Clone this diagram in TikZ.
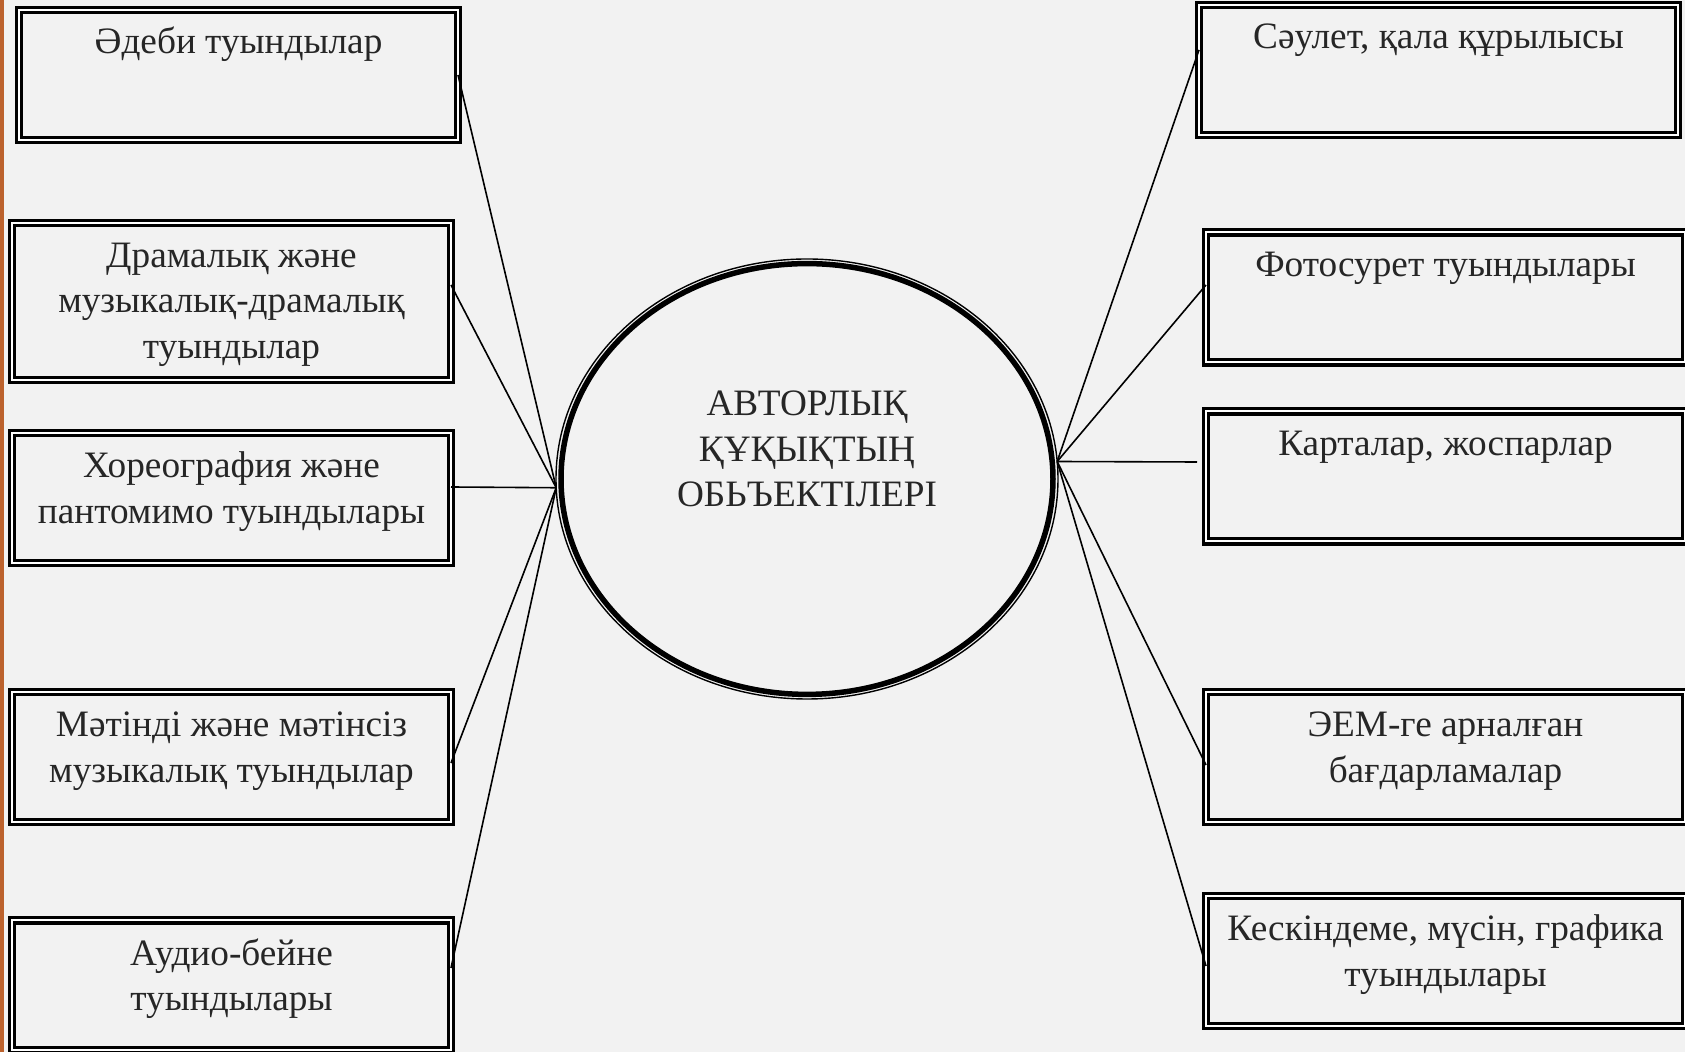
\documentclass[tikz,border=0pt]{standalone}
\usepackage{fontspec}
\setmainfont{Liberation Serif}
\usetikzlibrary{positioning,shapes.geometric}

\definecolor{slidegray}{RGB}{242,242,242}
\definecolor{rust}{RGB}{188,98,45}
\definecolor{inkgray}{RGB}{38,38,38}

\tikzset{
  kbox/.style={draw, double, line width=0.33mm, double distance=0.2mm,
    fill=slidegray, outer sep=0pt, inner ysep=0pt, minimum width=43.9mm,
    minimum height=13mm, align=center, text=inkgray,
    font=\fontsize{10.6}{13}\selectfont},
  rbox/.style={kbox, minimum width=47.9mm},
  toptxt/.style={text height=4.4mm, text depth=8.6mm},
  midtxt/.style={text height=7.3mm, text depth=2.2mm},
  ovalnode/.style={ellipse, draw, line width=0.14mm, fill=slidegray,
    inner sep=0pt, outer sep=0pt, minimum width=50.2mm, minimum height=44mm,
    align=center, text=inkgray, font=\fontsize{10.6}{13}\selectfont,
    text height=11.9mm, text depth=6.3mm},
  link/.style={line width=0.16mm},
}

\begin{document}
\begin{tikzpicture}[x=1mm, y=-1mm]

  \useasboundingbox (0,0) rectangle (168.5,105.2);
  \fill[slidegray] (0,0) rectangle (168.5,105.2);
  \fill[rust] (0,0) rectangle (0.35,105.2);

  % centre
  \node[ovalnode] (hub) at (80.7,47.9) {АВТОРЛЫҚ\\ҚҰҚЫҚТЫҢ\\ОБЬЪЕКТІЛЕРІ};
  \draw[line width=0.55mm] (hub.center) ellipse [x radius=24.6mm, y radius=21.54mm];

  % left column
  \node[kbox, toptxt] (adebi) at (23.85,7.5) {Әдеби туындылар};
  \node[kbox, minimum height=15.7mm, text height=11.9mm, text depth=0.5mm,
    below=8.3mm of adebi, xshift=-0.7mm] (drama)
    {Драмалық және\\музыкалық-драмалық\\туындылар};
  \node[kbox, midtxt, below=5.3mm of drama] (horeo) {Хореография және\\пантомимо туындылары};
  \node[kbox, midtxt, below=12.9mm of horeo] (muzyka) {Мәтінді және мәтінсіз\\музыкалық туындылар};
  \node[kbox, midtxt, below=9.85mm of muzyka] (audio) {Аудио-бейне\\туындылары};

  % right column
  \node[rbox, toptxt] (saulet) at (143.85,7.0) {Сәулет, қала құрылысы};
  \node[rbox, toptxt, below=9.75mm of saulet, xshift=0.7mm] (foto) {Фотосурет туындылары};
  \node[rbox, toptxt, below=4.9mm of foto] (karta) {Карталар, жоспарлар};
  \node[rbox, midtxt, below=15.05mm of karta] (eem) {ЭЕМ-ге арналған\\бағдарламалар};
  \node[rbox, midtxt, below=7.4mm of eem] (keskin) {Кескіндеме, мүсін, графика\\туындылары};

  % links
  \draw[link] (adebi.east) -- (hub.182);
  \draw[link] ([yshift=1.65mm]drama.east) -- (hub.182);
  \draw[link] ([yshift=1.1mm]horeo.east) -- (hub.182);
  \draw[link] ([yshift=-0.6mm]muzyka.east) -- (hub.182);
  \draw[link] ([yshift=1.75mm]audio.east) -- (hub.182);

  \draw[link] (hub.4) -- ([yshift=2mm]saulet.west);
  \draw[link] (hub.4) -- ([yshift=1.25mm]foto.west);
  \draw[link] (hub.4) -- ([xshift=-0.9mm, yshift=1.45mm]karta.west);
  \draw[link] (hub.4) -- ([yshift=-0.8mm]eem.west);
  \draw[link] (hub.4) -- ([yshift=-0.5mm]keskin.west);

\end{tikzpicture}
\end{document}
